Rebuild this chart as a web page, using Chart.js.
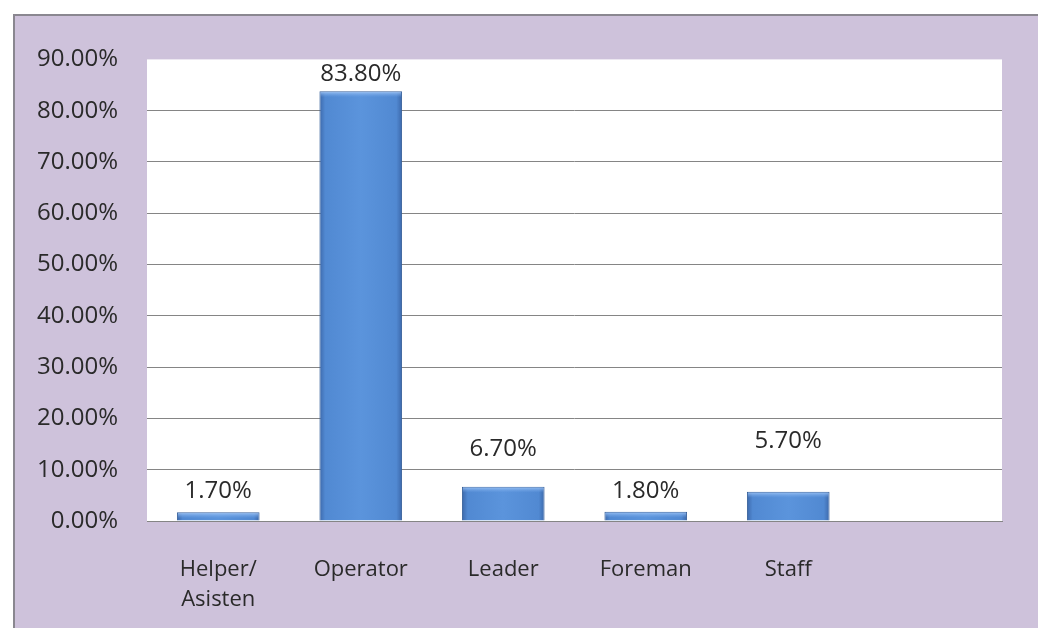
<!DOCTYPE html>
<html>
<head>
<meta charset="utf-8">
<script src="https://cdn.jsdelivr.net/npm/chart.js@4/dist/chart.umd.min.js"></script>
<style>
  html, body { margin: 0; padding: 0; background: #fff; }
  #frame {
    position: absolute; left: 13px; top: 14px;
    width: 1023px; height: 612px;
    border-top: 2px solid #8a8790; border-left: 2px solid #8a8790;
    background: #cec2db;
  }
  canvas { display: block; }
</style>
</head>
<body>
<div id="frame"><canvas id="chart" width="1023" height="612"></canvas></div>
<script>
// categories (the sixth slot is empty in the original)
const categories = [["Helper/", "Asisten"], "Operator", "Leader", "Foreman", "Staff", ""];
const percentages = [1.7, 83.8, 6.7, 1.8, 5.7, null];
const yTicks = [0, 10, 20, 30, 40, 50, 60, 70, 80, 90];

// how far above each bar its label sits (px) - excel put them a bit all over the place
const labelLift = [21, 17, 37, 21, 51, 0];

const FONT = "'Open Sans', Lato, sans-serif";
const BAR_PCT = 0.58;

function barFill(ctx) {
  const chart = ctx.chart;
  const xs = chart.scales.x;
  if (!xs || !xs.width) return "#5a8fd6";
  const cx = xs.getPixelForValue(ctx.dataIndex);
  const w = xs.width / categories.length * BAR_PCT;
  const g = chart.ctx.createLinearGradient(cx - w / 2, 0, cx + w / 2, 0);
  g.addColorStop(0, "#3c68aa");
  g.addColorStop(0.07, "#5189d2");
  g.addColorStop(0.5, "#5b94dc");
  g.addColorStop(0.93, "#5189d2");
  g.addColorStop(1, "#3c68aa");
  return g;
}

const plotBg = {
  id: "plotBg",
  beforeDraw(chart) {
    const a = chart.chartArea, c = chart.ctx;
    c.save();
    c.fillStyle = "#ffffff";
    c.fillRect(a.left, a.top, a.right - a.left, a.bottom - a.top);
    c.restore();
  }
};

// bevel-ish highlight on top of each bar + labels
const barLabels = {
  id: "barLabels",
  afterDatasetsDraw(chart) {
    const c = chart.ctx;
    const meta = chart.getDatasetMeta(0);
    c.save();
    meta.data.forEach((bar, i) => {
      if (percentages[i] === null) return;
      const l = bar.x - bar.width / 2, h = Math.min(6, bar.base - bar.y);
      const g = c.createLinearGradient(0, bar.y, 0, bar.y + h);
      g.addColorStop(0, "rgba(170,205,250,0.9)");
      g.addColorStop(1, "rgba(120,170,235,0)");
      c.fillStyle = g;
      c.fillRect(l + 1, bar.y + 1, bar.width - 2, h);
    });
    c.font = "24px " + FONT;
    c.fillStyle = "#2a2a2a";
    c.textAlign = "center";
    c.textBaseline = "middle";
    meta.data.forEach((bar, i) => {
      const v = percentages[i];
      if (v === null) return;
      c.fillText(v.toFixed(2) + "%", bar.x, bar.y - labelLift[i]);
    });
    c.restore();
  }
};

new Chart(document.getElementById("chart"), {
  type: "bar",
  data: {
    labels: categories,
    datasets: [{
      data: percentages,
      backgroundColor: barFill,
      borderColor: "#37609a",
      borderWidth: 1,
      categoryPercentage: 1,
      barPercentage: BAR_PCT
    }]
  },
  options: {
    responsive: false,
    animation: false,
    layout: { padding: { top: 38, right: 36, left: 0, bottom: 0 } },
    plugins: { legend: { display: false }, tooltip: { enabled: false } },
    scales: {
      x: {
        grid: { display: false, drawTicks: false },
        border: { color: "#858585", width: 1 },
        ticks: {
          color: "#2a2a2a",
          font: { family: FONT, size: 22, lineHeight: 1.36 },
          padding: 34,
          maxRotation: 0
        },
        afterFit(s) { s.height = 107; }
      },
      y: {
        min: 0, max: 90,
        afterBuildTicks(s) { s.ticks = yTicks.map(v => ({ value: v })); },
        grid: {
          drawTicks: false,
          color: ctx => ctx.tick && ctx.tick.value === 90 ? "rgba(0,0,0,0)" : "#858585"
        },
        border: { display: false },
        ticks: {
          color: "#2a2a2a",
          font: { family: FONT, size: 24 },
          padding: 29,
          callback: v => v.toFixed(2) + "%"
        },
        afterFit(s) { s.width = 132; }
      }
    }
  },
  plugins: [plotBg, barLabels]
});
</script>
</body>
</html>
